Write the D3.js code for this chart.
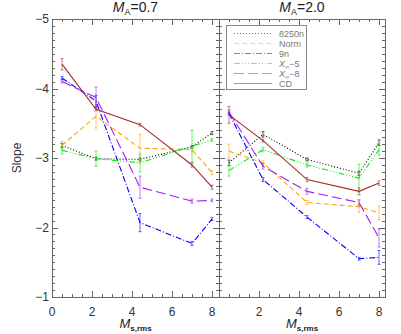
<!DOCTYPE html>
<html><head><meta charset="utf-8">
<script src="https://cdn.jsdelivr.net/npm/d3@7"></script>
<style>body{margin:0;background:#fff}svg{display:block}text{font-family:"Liberation Sans",Arial,sans-serif}</style>
</head><body><svg id="c" width="401" height="334"></svg>
<script>
const xVals = [0.5, 2.2, 4.4, 7.0, 8.0];
const seriesNames = ["8250n", "Norm", "9n", "X∞−5", "X∞−8", "CD"];
const panelTitles = ["0.7", "2.0"];
const yTicks = [-5, -4, -3, -2, -1];
const xTicksLeft = [0, 2, 4, 6, 8];
const xTicksRight = [2, 4, 6, 8];

// M_A = 0.7
const s8250n_A07 = [-3.18, -2.99, -2.98, -3.16, -3.36];
const norm_A07   = [-3.18, -3.60, -3.14, -3.12, -2.79];
const n9_A07     = [-4.15, -3.82, -2.07, -1.77, -2.12];
const x5_A07     = [-3.11, -2.99, -2.93, -3.17, -3.26];
const x8_A07     = [-4.10, -3.87, -2.58, -2.38, -2.39];
const cd_A07     = [-4.35, -3.70, -3.48, -2.90, -2.58];
// error bars M_A = 0.7
const e8250n_A07 = [0.03, 0.02, 0.02, 0.02, 0.02];
const enorm_A07  = [0.06, 0.17, 0.20, 0.03, 0.03];
const en9_A07    = [0.02, 0.08, 0.13, 0.03, 0.02];
const ex5_A07    = [0.05, 0.11, 0.13, 0.23, 0.02];
const ex8_A07    = [0.02, 0.15, 0.16, 0.03, 0.02];
const ecd_A07    = [0.08, 0.02, 0.02, 0.03, 0.03];

// M_A = 2.0
const s8250n_A20 = [-2.93, -3.34, -2.98, -2.78, -3.22];
const norm_A20   = [-3.10, -2.93, -2.36, -2.30, -2.21];
const n9_A20     = [-3.64, -2.69, -2.15, -1.55, -1.57];
const x5_A20     = [-2.82, -3.12, -2.90, -2.71, -3.12];
const x8_A20     = [-3.66, -2.88, -2.52, -2.36, -1.85];
const cd_A20     = [-3.62, -3.25, -2.69, -2.52, -2.64];
const e8250n_A20 = [0.04, 0.04, 0.02, 0.03, 0.04];
const enorm_A20  = [0.10, 0.03, 0.03, 0.08, 0.10];
const en9_A20    = [0.02, 0.03, 0.02, 0.02, 0.10];
const ex5_A20    = [0.08, 0.03, 0.03, 0.20, 0.08];
const ex8_A20    = [0.03, 0.04, 0.04, 0.04, 0.13];
const ecd_A20    = [0.12, 0.02, 0.03, 0.05, 0.03];

const styles = [
  {color:"#000000", dash:"1,2"},
  {color:"#ffa500", dash:"5,3"},
  {color:"#0000ff", dash:"6,2,1,2"},
  {color:"#00ee00", dash:"6,2,1,2,1,2,1,2"},
  {color:"#a020f0", dash:"10,4"},
  {color:"#a52a2a", dash:null}
];

const panels = [
  {title: panelTitles[0], vals:[s8250n_A07,norm_A07,n9_A07,x5_A07,x8_A07,cd_A07],
   errs:[e8250n_A07,enorm_A07,en9_A07,ex5_A07,ex8_A07,ecd_A07], x0:52, x1:219, xmax:8.35, xt:xTicksLeft, yaxis:true},
  {title: panelTitles[1], vals:[s8250n_A20,norm_A20,n9_A20,x5_A20,x8_A20,cd_A20],
   errs:[e8250n_A20,enorm_A20,en9_A20,ex5_A20,ex8_A20,ecd_A20], x0:219, x1:385, xmax:8.3, xt:xTicksRight, yaxis:false}
];

const svg = d3.select("#c");
const plotTop = 19, plotBot = 297;
const y = d3.scaleLinear().domain([-5, -1]).range([plotTop, plotBot]);
const axisCol = "#666";

panels.forEach((p, pi) => {
  const x = d3.scaleLinear().domain([0, p.xmax]).range([p.x0, p.x1]);
  const g = svg.append("g");
  g.append("rect").attr("x", p.x0 + 0.5).attr("y", plotTop + 0.5).attr("width", p.x1 - p.x0).attr("height", plotBot - plotTop)
    .attr("fill", "none").attr("stroke", axisCol).attr("stroke-width", 1);
  const yMinor = d3.range(-5, -0.99, 0.1).map(v => +v.toFixed(2));
  yMinor.forEach(v => {
    const major = Math.abs(v - Math.round(v)) < 1e-6;
    const L = major ? 6 : 3;
    const yy = Math.round(y(v)) + 0.5;
    g.append("line").attr("x1", p.x0).attr("x2", p.x0 + L).attr("y1", yy).attr("y2", yy).attr("stroke", axisCol);
    g.append("line").attr("x1", p.x1).attr("x2", p.x1 - L).attr("y1", yy).attr("y2", yy).attr("stroke", axisCol);
  });
  d3.range(0, p.xmax, 0.5).forEach(v => {
    const major = Math.abs(v - Math.round(v / 2) * 2) < 1e-6;
    const L = major ? 6 : 3;
    const xx = Math.round(x(v)) + 0.5;
    g.append("line").attr("x1", xx).attr("x2", xx).attr("y1", plotBot).attr("y2", plotBot - L).attr("stroke", axisCol);
    g.append("line").attr("x1", xx).attr("x2", xx).attr("y1", plotTop).attr("y2", plotTop + L).attr("stroke", axisCol);
  });
  g.selectAll(".xl").data(p.xt).enter().append("text")
    .attr("x", d => x(d)).attr("y", 316).attr("text-anchor", "middle")
    .attr("font-size", 12).attr("fill", "#333").text(d => d);
  if (p.yaxis) {
    g.selectAll(".yl").data(yTicks).enter().append("text")
      .attr("x", 49).attr("y", d => y(d) + 4).attr("text-anchor", "end")
      .attr("font-size", 12).attr("fill", "#333").text(d => "\u2212" + Math.abs(d));
  }
  const cx = (p.x0 + p.x1) / 2;
  const t = g.append("text").attr("x", cx).attr("y", 12).attr("text-anchor", "middle").attr("font-size", 14).attr("fill", "#222");
  t.append("tspan").attr("font-style", "italic").text("M");
  t.append("tspan").attr("font-size", 9).attr("dy", 3).text("A");
  t.append("tspan").attr("dy", -3).text("=" + p.title);
  const xl = g.append("text").attr("x", cx).attr("y", 328).attr("text-anchor", "middle").attr("font-size", 13).attr("fill", "#222");
  xl.append("tspan").attr("font-style", "italic").text("M");
  xl.append("tspan").attr("font-size", 8).attr("font-weight", "bold").attr("dy", 3).text("s,rms");

  const line = d3.line().x((d, i) => x(xVals[i])).y(d => y(d));
  p.vals.forEach((vals, si) => {
    const st = styles[si];
    g.append("path").datum(vals).attr("d", line).attr("fill", "none")
      .attr("stroke", st.color).attr("stroke-width", 1.1)
      .attr("stroke-dasharray", st.dash);
    vals.forEach((v, i) => {
      const e = p.errs[si][i];
      const xx = x(xVals[i]);
      g.append("line").attr("x1", xx).attr("x2", xx).attr("y1", y(v - e)).attr("y2", y(v + e))
        .attr("stroke", st.color).attr("stroke-width", 1).attr("opacity", 0.6);
      [v - e, v + e].forEach(w => g.append("line").attr("x1", xx - 1.5).attr("x2", xx + 1.5)
        .attr("y1", y(w)).attr("y2", y(w)).attr("stroke", st.color).attr("opacity", 0.6));
    });
  });
});

svg.append("text").attr("transform", "translate(21,158) rotate(-90)").attr("text-anchor", "middle")
  .attr("font-size", 12).attr("fill", "#333").text("Slope");

const lg = svg.append("g");
lg.append("rect").attr("x", 226.5).attr("y", 25.5).attr("width", 80).attr("height", 64)
  .attr("fill", "#fff").attr("stroke", "#888").attr("stroke-width", 1);
seriesNames.forEach((name, i) => {
  const yy = 33.5 + i * 10;
  lg.append("line").attr("x1", 234).attr("x2", 272).attr("y1", yy).attr("y2", yy)
    .attr("stroke", styles[i].color).attr("stroke-dasharray", styles[i].dash).attr("opacity", 0.55);
  const t = lg.append("text").attr("x", 279).attr("y", yy + 3.5).attr("font-size", 9).attr("fill", "#777");
  if (name.startsWith("X")) {
    t.append("tspan").attr("font-style", "italic").text("X");
    t.append("tspan").attr("font-size", 6).attr("dy", 2).text("∞");
    t.append("tspan").attr("dy", -2).text(name.slice(2));
  } else {
    t.text(name);
  }
});
</script></body></html>
